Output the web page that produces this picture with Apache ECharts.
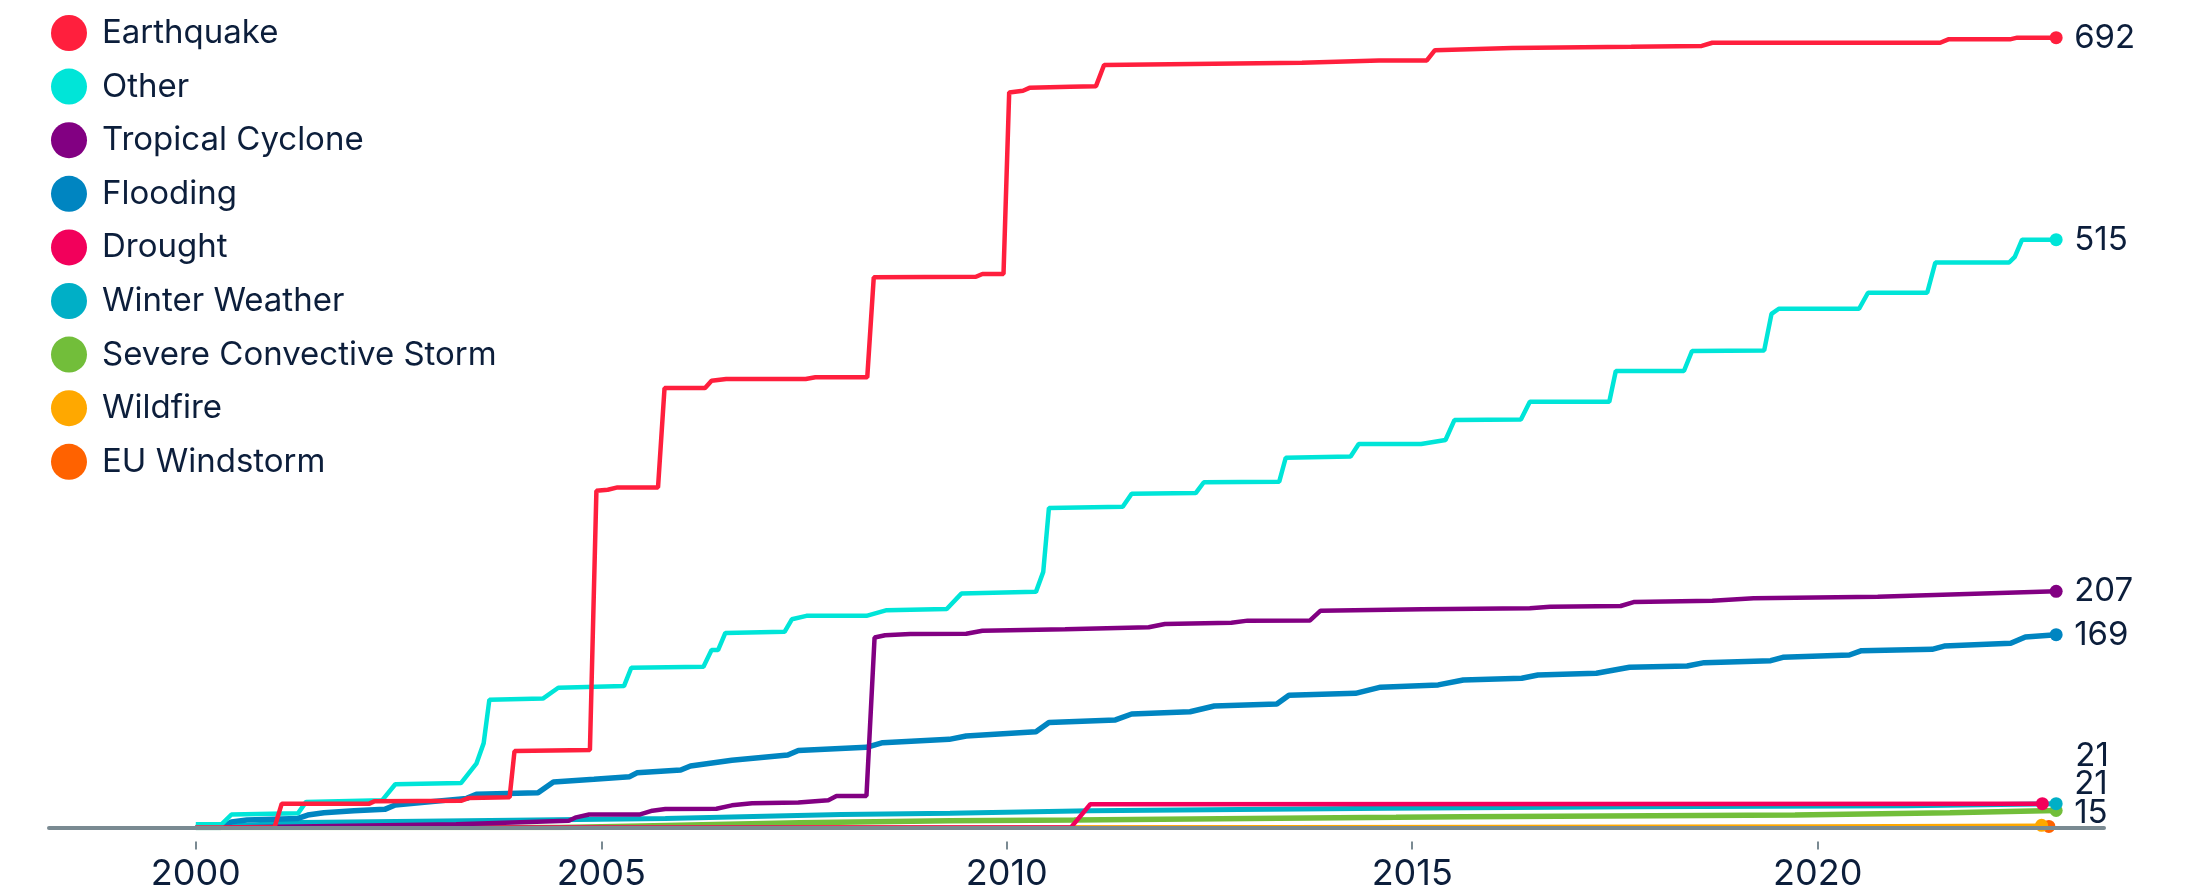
<!DOCTYPE html>
<html>
<head>
<meta charset="utf-8">
<script src="https://cdn.jsdelivr.net/npm/echarts@6/dist/echarts.min.js"></script>
<style>
  html, body { margin: 0; padding: 0; background: #fff; }
  #chart { width: 2192px; height: 896px; }
</style>
</head>
<body>
<div id="chart"></div>
<script>
// cumulative counts, [decimal year, count]
const earthquake = [
  [2000.0, 0], [2000.97, 0], [2001.06, 21], [2002.14, 21], [2002.2, 23], [2003.27, 23.5], [2003.37, 26],
  [2003.87, 26.5], [2003.93, 67], [2004.86, 68], [2004.94, 295], [2005.08, 296], [2005.2, 298], [2005.7, 298],
  [2005.78, 385], [2006.28, 385], [2006.36, 391.5], [2006.54, 393], [2007.52, 393], [2007.64, 394.5],
  [2008.28, 394.5], [2008.36, 482], [2009.62, 482.5], [2009.7, 485], [2009.96, 485], [2010.03, 644],
  [2010.2, 645.5], [2010.28, 648], [2010.78, 649], [2011.1, 649.5], [2011.2, 668], [2013.64, 670],
  [2014.59, 672], [2015.18, 672], [2015.28, 681], [2016.23, 683], [2017.7, 684], [2018.57, 684.7],
  [2018.7, 687.5], [2021.51, 687.5], [2021.61, 690.5], [2022.37, 690.5], [2022.46, 692], [2022.94, 692]
];
const other = [
  [2000.0, 3], [2000.32, 3], [2000.44, 11.5], [2001.26, 12.5], [2001.36, 22.5], [2002.3, 24], [2002.46, 38],
  [2003.27, 39], [2003.46, 56], [2003.55, 74], [2003.62, 112], [2004.28, 113], [2004.47, 122.5], [2005.28, 124],
  [2005.37, 140], [2006.26, 141], [2006.36, 155.5], [2006.44, 155.5], [2006.53, 170.5], [2007.26, 171.5],
  [2007.35, 182.5], [2007.53, 185.5], [2008.27, 185.5], [2008.52, 190.5], [2009.26, 191.5], [2009.44, 205],
  [2010.36, 206.5], [2010.45, 224], [2010.52, 280], [2011.43, 281], [2011.54, 292.5], [2012.33, 293],
  [2012.43, 302.5], [2013.36, 303], [2013.44, 324], [2014.24, 325], [2014.34, 336], [2015.11, 336],
  [2015.41, 339.5], [2015.52, 357], [2016.34, 357.5], [2016.45, 373], [2017.43, 373], [2017.51, 400],
  [2018.35, 400], [2018.45, 417.5], [2019.34, 418], [2019.43, 450], [2019.52, 454.5], [2020.51, 454.5],
  [2020.62, 468.5], [2021.35, 468.5], [2021.45, 495], [2022.36, 495], [2022.43, 500], [2022.52, 515], [2022.94, 515]
];
const tropicalCyclone = [
  [2000.0, 0], [2000.38, 0], [2003.21, 3], [2004.6, 6], [2004.69, 9], [2004.85, 11.5], [2005.48, 11.5],
  [2005.63, 14.8], [2005.79, 16.3], [2006.42, 16.5], [2006.61, 19.5], [2006.86, 21.3], [2007.43, 22],
  [2007.8, 24], [2007.9, 27.7], [2008.27, 27.7], [2008.37, 166.5], [2008.5, 168.5], [2008.81, 169.5],
  [2009.5, 169.8], [2009.7, 172.5], [2010.72, 173.7], [2011.75, 175.5], [2011.95, 178.4], [2012.77, 179.5],
  [2012.97, 181.3], [2013.74, 181.5], [2013.87, 190], [2015.12, 191.2], [2016.45, 192.1], [2016.7, 193.5],
  [2017.57, 194.1], [2017.73, 197.6], [2018.7, 198.8], [2019.21, 200.9], [2020.74, 202.3], [2022.94, 207]
];
const flooding = [
  [2000.0, 0], [2000.3, 0], [2000.44, 5], [2000.63, 6.6], [2001.26, 8], [2001.38, 11], [2001.58, 13],
  [2001.95, 14.8], [2002.33, 16], [2002.46, 19.8], [2003.34, 25.6], [2003.46, 29.2], [2004.22, 30.6],
  [2004.41, 40], [2004.91, 42.3], [2005.35, 44.6], [2005.44, 48], [2005.98, 50.5], [2006.1, 54],
  [2006.61, 59], [2007.3, 63.6], [2007.43, 67.5], [2008.27, 70.3], [2008.47, 74.4], [2009.29, 77.3],
  [2009.5, 80.2], [2010.36, 84], [2010.52, 92], [2011.34, 94.3], [2011.54, 99.5], [2012.26, 101.5],
  [2012.56, 106.5], [2013.33, 108.3], [2013.48, 116], [2014.3, 117.6], [2014.61, 123], [2015.32, 125],
  [2015.63, 129.3], [2016.35, 130.8], [2016.55, 133.7], [2017.27, 135.2], [2017.68, 140.4], [2018.39, 141.6],
  [2018.6, 144.5], [2019.42, 146.2], [2019.57, 149.2], [2020.39, 151.2], [2020.54, 155], [2021.41, 156.2],
  [2021.56, 159], [2022.38, 161.4], [2022.56, 167], [2022.94, 169]
];
const drought = [[2000.0, 0], [2010.79, 0], [2011.03, 20.5], [2022.77, 21]];
const winterWeather = [
  [2000.0, 0], [2000.3, 1], [2001.3, 4.5], [2003.92, 6.5], [2005.79, 8], [2007.96, 11.5], [2009.3, 12.5],
  [2011.03, 14.8], [2014.7, 16.9], [2017.7, 18.2], [2021.1, 19.2], [2022.94, 21]
];
const severeStorm = [
  [2000.0, 0], [2004.5, 0], [2005.5, 1.5], [2007.45, 4.3], [2009.3, 6], [2010.83, 6.6], [2014.8, 9],
  [2015.63, 9.6], [2019.72, 11], [2021.63, 13], [2022.94, 15]
];
const wildfire = [[2000.0, 0], [2010.8, 0.5], [2016.0, 1], [2020.0, 1.5], [2022.76, 2]];
const euWindstorm = [[2000.0, 0], [2015.0, 0.3], [2022.85, 1]];

const names = ['Earthquake', 'Other', 'Tropical Cyclone', 'Flooding', 'Drought', 'Winter Weather',
  'Severe Convective Storm', 'Wildfire', 'EU Windstorm'];
const tickYears = [2000, 2005, 2010, 2015, 2020];

const seriesData = [earthquake, other, tropicalCyclone, flooding, drought, winterWeather, severeStorm, wildfire, euWindstorm];
const colors = ['#ff1f3d', '#00e5d8', '#820082', '#0085c1', '#f2005b', '#00afc6', '#72be3a', '#ffa800', '#ff6200'];
const widths = [4.5, 4.5, 4.5, 5.5, 4.5, 5, 5.5, 3.5, 3.5];
const labelOffsets = [[0, 0], [0, 0], [0, 0], [0, 0], [15, -48], [0, -20], [0, 3], null, null];

const textColor = '#0c1e3b';
const axisColor = '#7a8a92';
const font = 'Inter, "Noto Sans", sans-serif';

const chart = echarts.init(document.getElementById('chart'), null, { renderer: 'canvas' });

let series = [];
for (let i = names.length - 1; i >= 0; i--) {
  const data = seriesData[i];
  const last = data.length - 1;
  series.push({
    name: names[i],
    type: 'line',
    data: data,
    color: colors[i],
    showSymbol: true,
    showAllSymbol: true,
    symbol: 'circle',
    symbolSize: (val, p) => (p.dataIndex === last ? 13 : 0),
    lineStyle: { width: widths[i], color: colors[i] },
    itemStyle: { color: colors[i] },
    emphasis: { disabled: true },
    endLabel: {
      show: labelOffsets[i] !== null,
      formatter: p => p.value[1],
      distance: 18,
      offset: labelOffsets[i] || [0, 0],
      fontSize: 33,
      fontFamily: font,
      color: textColor
    }
  });
}

var option = {
  animation: false,
  backgroundColor: '#fff',
  legend: {
    data: names,
    orient: 'vertical',
    left: 46,
    top: 10,
    icon: 'circle',
    itemWidth: 56,
    itemHeight: 36,
    itemGap: 17.6,
    textStyle: { fontSize: 33, color: textColor, fontFamily: font },
    selectedMode: false
  },
  grid: { left: 49, right: 88, top: 28.5, bottom: 68.4 },
  xAxis: [{
    type: 'value',
    min: 1998.19,
    max: 2023.53,
    z: 10,
    axisLine: { show: true, lineStyle: { color: axisColor, width: 4 } },
    axisTick: { show: false },
    axisLabel: { show: false },
    splitLine: { show: false }
  }, {
    type: 'value',
    min: 1998.19,
    max: 2023.53,
    position: 'bottom',
    offset: 14,
    axisLine: { show: false },
    axisTick: { show: true, length: 8, customValues: tickYears, lineStyle: { color: axisColor, width: 2 } },
    axisLabel: {
      show: true, customValues: tickYears, margin: 15, fontSize: 36, fontFamily: font, color: textColor,
      formatter: v => String(v)
    },
    splitLine: { show: false }
  }],
  yAxis: { type: 'value', min: 0, max: 700, show: false },
  series: series
};
chart.setOption(option);
</script>
</body>
</html>
